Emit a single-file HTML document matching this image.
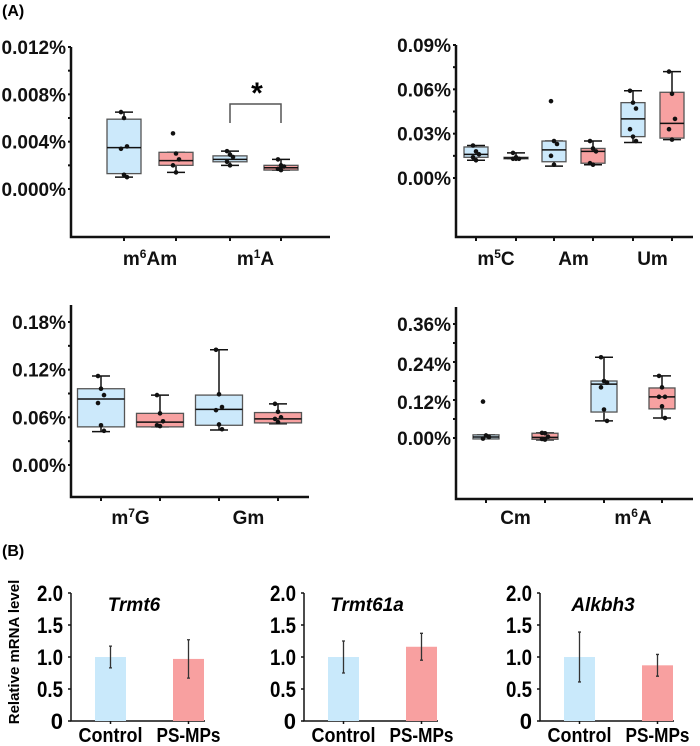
<!DOCTYPE html>
<html><head><meta charset="utf-8"><style>
body{margin:0;background:#fff}
svg{display:block;font-family:"Liberation Sans",Arial,sans-serif}
.tl{font-weight:bold;font-size:19px;fill:#111}
.cat{font-weight:bold;font-size:19px;fill:#111}
</style></head><body>
<svg id="fig" width="700" height="746" viewBox="0 0 700 746">
<text x="2" y="16" font-weight="bold" font-size="16">(A)</text>
<text x="2" y="556" font-weight="bold" font-size="16">(B)</text>
</svg>
<script>
// ---------- Panel A data (percent) ----------
// box stats order: [min, q1, median, q3, max]
const p1Cats = ["m6Am","m1A"];
const p1Ctrl = [[0.0010,0.0013,0.0035,0.0059,0.0065],[0.0020,0.0023,0.0025,0.0028,0.0032]];
const p1Ps = [[0.0014,0.0020,0.0024,0.0031,0.0031],[0.0016,0.0016,0.0018,0.0020,0.0025]];
const p1CtrlPts = [[0.0065,0.0060,0.0036,0.0034,0.0012,0.0010],[0.0032,0.0029,0.0027,0.0023,0.0020]];
const p1PsPts = [[0.0047,0.0030,0.0025,0.0020,0.0014],[0.0025,0.0020,0.0019,0.0017,0.0016]];
const p1Ticks = ["0.000%","0.004%","0.008%","0.012%"];
const p1TickVals = [0,0.004,0.008,0.012];

const p2Cats = ["m5C","Am","Um"];
const p2Ctrl = [[0.012,0.014,0.016,0.021,0.022],[0.008,0.011,0.019,0.025,0.025],[0.024,0.028,0.040,0.051,0.059]];
const p2Ps = [[0.013,0.013,0.0135,0.014,0.017],[0.009,0.010,0.018,0.020,0.025],[0.026,0.027,0.037,0.058,0.072]];
const p2CtrlPts = [[0.022,0.018,0.016,0.014,0.012],[0.052,0.025,0.023,0.015,0.009],[0.059,0.051,0.047,0.033,0.028,0.025]];
const p2PsPts = [[0.017,0.014,0.013,0.013,0.013],[0.025,0.020,0.018,0.010,0.009],[0.072,0.057,0.040,0.033,0.026]];
const p2Ticks = ["0.00%","0.03%","0.06%","0.09%"];
const p2TickVals = [0,0.03,0.06,0.09];

const p3Cats = ["m7G","Gm"];
const p3Ctrl = [[0.042,0.048,0.083,0.096,0.112],[0.044,0.050,0.070,0.088,0.145]];
const p3Ps = [[0.048,0.048,0.054,0.065,0.088],[0.052,0.053,0.058,0.066,0.077]];
const p3CtrlPts = [[0.112,0.096,0.088,0.078,0.050,0.043],[0.145,0.089,0.073,0.069,0.051,0.045]];
const p3PsPts = [[0.088,0.065,0.055,0.050,0.049],[0.077,0.067,0.060,0.058,0.054]];
const p3Ticks = ["0.00%","0.06%","0.12%","0.18%"];
const p3TickVals = [0,0.06,0.12,0.18];

const p4Cats = ["Cm","m6A"];
const p4Ctrl = [[-0.002,-0.003,0.003,0.010,0.010],[0.054,0.082,0.170,0.180,0.255]];
const p4Ps = [[-0.006,-0.004,0.002,0.015,0.016],[0.063,0.092,0.130,0.158,0.196]];
const p4CtrlPts = [[0.115,0.008,0.003,-0.002],[0.255,0.180,0.175,0.160,0.090,0.054]];
const p4PsPts = [[0.016,0.015,0.004,-0.003,-0.005],[0.196,0.160,0.130,0.130,0.100,0.063]];
const p4Ticks = ["0.00%","0.12%","0.24%","0.36%"];
const p4TickVals = [0,0.12,0.24,0.36];

// ---------- Panel B data ----------
const geneNames = ["Trmt6","Trmt61a","Alkbh3"];
const ctrlMeans = [1.0,1.0,1.0];
const ctrlErr = [0.17,0.25,0.39];
const psMeans = [0.97,1.16,0.87];
const psErr = [0.30,0.21,0.17];
const barTicks = ["0","0.5","1.0","1.5","2.0"];
const barTickVals = [0,0.5,1.0,1.5,2.0];
const groupNames = ["Control","PS-MPs"];

const NS="http://www.w3.org/2000/svg";
const svg=document.getElementById('fig');
function mk(tag,attrs,parent){const e=document.createElementNS(NS,tag);for(const k in attrs)e.setAttribute(k,attrs[k]);(parent||svg).appendChild(e);return e;}

function catLabel(g,x,y,name){
  const t=mk('text',{x:x,y:y,'text-anchor':'middle',class:'cat'},g);
  const m=name.match(/^m(\d)(.*)$/);
  if(m){
    t.appendChild(document.createTextNode('m'));
    const s=mk('tspan',{'font-size':'12',dy:'-7'},t);s.textContent=m[1];
    const r=mk('tspan',{dy:'7'},t);r.textContent=m[2];
  } else t.textContent=name;
  return t;
}

function boxPanel(cfg,cats,ctrl,ps,ctrlPts,psPts,ticks,tickVals){
  const g=mk('g',{});
  
  
  const y=v=>cfg.y0+(v-cfg.vmin)/(cfg.vmax-cfg.vmin)*(cfg.y1-cfg.y0);
  const ax=mk('path',{d:`M${cfg.ax},${cfg.top}V${cfg.bot}H${cfg.axEnd}`,stroke:'#111','stroke-width':2.5,fill:'none'},g);
  
  
  const step=(tickVals[1]-tickVals[0])/2;
  for(let v=cfg.vmin;v<=cfg.vmax+1e-9;v+=step){const yy=y(v);if(yy<cfg.top-1||yy>cfg.bot)continue;mk('line',{x1:cfg.ax-3,x2:cfg.ax,y1:yy,y2:yy,stroke:'#111','stroke-width':2},g);}
  tickVals.forEach((v,i)=>{
    const yy=(cfg.labelY?cfg.labelY[i]:y(v));
    const t=mk('text',{x:cfg.ax-5,y:yy+7,'text-anchor':'end',class:'tl'},g);
    
    
    t.textContent=ticks[i];
  });
  cats.forEach((c,i)=>{
    const xc=cfg.xs[2*i],xp=cfg.xs[2*i+1];
    [xc,xp].forEach(x=>mk('line',{x1:x,x2:x,y1:cfg.bot,y2:cfg.bot+4,stroke:'#111','stroke-width':2},g));
    const l=catLabel(g,(xc+xp)/2+(cfg.labShift||0),cfg.labY,c);
    
    
    [[xc,ctrl[i],ctrlPts[i],'#cce9fb'],[xp,ps[i],psPts[i],'#f7a1a1']].forEach(([x,s,pts,col],k)=>{
      const w=cfg.bw/2;
      const bg=mk('g',{},g);
      
      
      mk('line',{x1:x,x2:x,y1:y(s[0]),y2:y(s[4]),stroke:'#111','stroke-width':1.5},bg);
      mk('line',{x1:x-9,x2:x+9,y1:y(s[0]),y2:y(s[0]),stroke:'#111','stroke-width':1.5},bg);
      mk('line',{x1:x-9,x2:x+9,y1:y(s[4]),y2:y(s[4]),stroke:'#111','stroke-width':1.5},bg);
      mk('rect',{x:x-w,y:y(s[3]),width:cfg.bw,height:Math.max(1,y(s[1])-y(s[3])),fill:col,stroke:'#555','stroke-width':1.3},bg);
      mk('line',{x1:x-w,x2:x+w,y1:y(s[2]),y2:y(s[2]),stroke:'#111','stroke-width':1.5},bg);
      pts.forEach((p,j)=>{
        const d=mk('circle',{cx:x+((j%3)-1)*3,cy:y(p),r:2.3,fill:'#111'},bg);
        
        
      });
    });
  });
  return g;
}

boxPanel({name:'chart-m6am-m1a',ax:71,top:47,bot:237,axEnd:330,y0:189,y1:47,vmin:0,vmax:0.012,xs:[124,176,230,281],bw:34,labY:265},p1Cats,p1Ctrl,p1Ps,p1CtrlPts,p1PsPts,p1Ticks,p1TickVals);
boxPanel({name:'chart-m5c-am-um',ax:456,top:45,bot:237,axEnd:693,y0:178,y1:45,vmin:0,vmax:0.09,xs:[476,516,554,593,633,672],bw:24,labY:265},p2Cats,p2Ctrl,p2Ps,p2CtrlPts,p2PsPts,p2Ticks,p2TickVals);
boxPanel({name:'chart-m7g-gm',ax:71,top:305,bot:497,axEnd:309,y0:465,y1:322,vmin:0,vmax:0.18,xs:[101,160,219,278],bw:47,labY:524},p3Cats,p3Ctrl,p3Ps,p3CtrlPts,p3PsPts,p3Ticks,p3TickVals);
boxPanel({name:'chart-cm-m6a',ax:456,top:307,bot:499,axEnd:693,y0:438,y1:324,vmin:0,vmax:0.36,xs:[486,545,604,662],bw:26,labY:524,labShift:0,labelY:[438,402,364,324]},p4Cats,p4Ctrl,p4Ps,p4CtrlPts,p4PsPts,p4Ticks,p4TickVals);

const br=mk('path',{d:'M230,123V104H281V123',stroke:'#555','stroke-width':1.5,fill:'none'});


const st=mk('text',{x:257,y:103,'text-anchor':'middle','font-size':'30','font-weight':'bold'});


st.textContent='*';

// ---------- Panel B ----------
const axXs=[71,304,540];
const by=v=>721-(v/2.0)*(721-593);
geneNames.forEach((gname,i)=>{
  const a=axXs[i];
  const g=mk('g',{});
  
  
  const ax=mk('path',{d:`M${a},${by(2.0)}V${by(0)}H${a+134}`,stroke:'#111','stroke-width':1.5,fill:'none'},g);
  
  
  barTickVals.forEach((v,k)=>{
    mk('line',{x1:a-3,x2:a,y1:by(v),y2:by(v),stroke:'#111','stroke-width':1.5},g);
    const t=mk('text',{x:a-8,y:by(v)+8,'text-anchor':'end','font-weight':'bold','font-size':'22'},g);
    if(barTicks[k].length===3){t.setAttribute('textLength','26');t.setAttribute('lengthAdjust','spacingAndGlyphs');}
    
    
    t.textContent=barTicks[k];
  });
  const ti=mk('text',{x:a+63,y:611,'text-anchor':'middle','font-weight':'bold','font-style':'italic','font-size':'19'},g);
  
  
  ti.textContent=gname;
  [[ctrlMeans[i],ctrlErr[i],'#c9e9fb',a+24],[psMeans[i],psErr[i],'#f8a0a0',a+102]].forEach(([m,e,col,x],k)=>{
    const b=mk('rect',{x:x,y:by(m),width:31,height:by(0)-by(m),fill:col},g);
    
    
    const cx=x+15.5;
    const eb=mk('path',{d:`M${cx},${by(m-e)}V${by(m+e)}M${cx-1.5},${by(m-e)}H${cx+1.5}M${cx-1.5},${by(m+e)}H${cx+1.5}`,stroke:'#333','stroke-width':1.3,fill:'none'},g);
    
    
    mk('line',{x1:cx,x2:cx,y1:by(0),y2:by(0)+3,stroke:'#111','stroke-width':1.5},g);
    const l=mk('text',{x:cx,y:742,'text-anchor':'middle','font-weight':'bold','font-size':'20',textLength:'64',lengthAdjust:'spacingAndGlyphs'},g);
    
    
    l.textContent=groupNames[k];
  });
});
const yt=mk('text',{x:0,y:0,transform:'translate(19,652) rotate(-90)','text-anchor':'middle','font-weight':'bold','font-size':'15'});


yt.textContent='Relative mRNA level';
</script>
</body></html>
